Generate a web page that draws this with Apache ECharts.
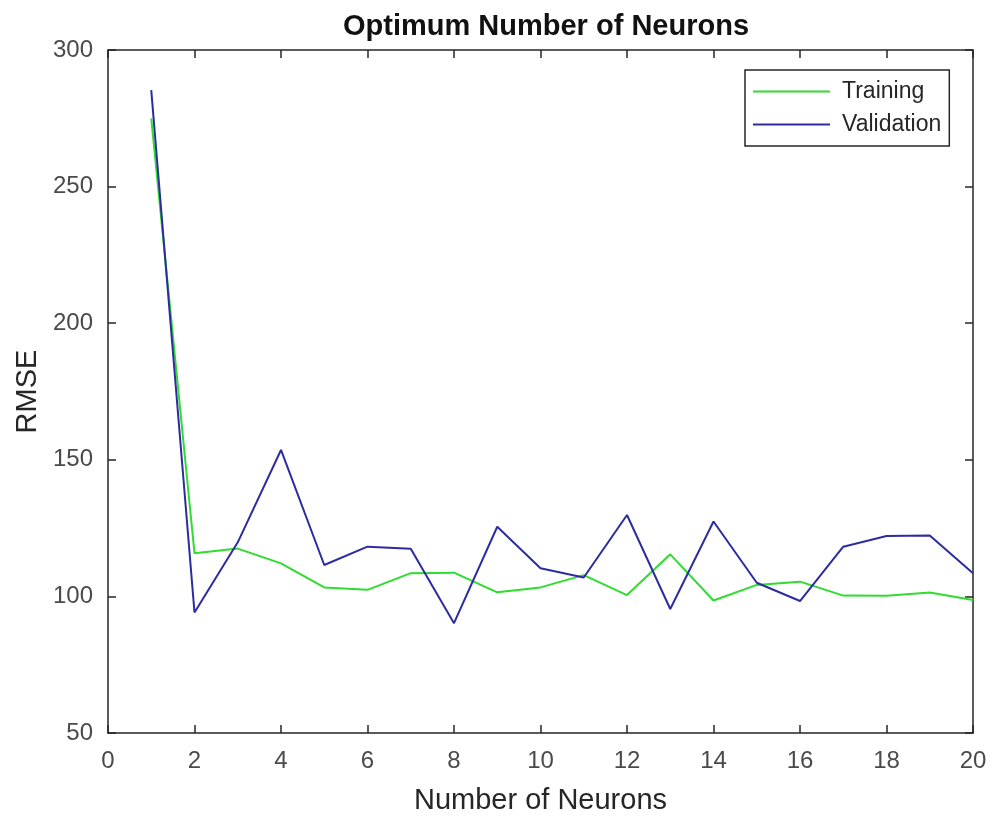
<!DOCTYPE html>
<html>
<head>
<meta charset="utf-8">
<script src="https://cdn.jsdelivr.net/npm/echarts@6/dist/echarts.min.js"></script>
<style>
  html, body { margin: 0; padding: 0; background: #ffffff; }
  #chart { width: 993px; height: 820px; }
</style>
</head>
<body>
<div id="chart"></div>
<script>
// Hidden-layer size vs. RMSE
const neurons = [1, 2, 3, 4, 5, 6, 7, 8, 9, 10, 11, 12, 13, 14, 15, 16, 17, 18, 19, 20];
const trainingRmse = [275, 115.8, 117.5, 112.1, 103.3, 102.4, 108.5, 108.7, 101.5, 103.3,
                      107.8, 100.5, 115.4, 98.5, 104.2, 105.4, 100.3, 100.2, 101.4, 98.7];
const validationRmse = [285.3, 94.1, 119.8, 153.6, 111.5, 118.2, 117.4, 90.2, 125.5, 110.3,
                        106.9, 129.8, 95.4, 127.4, 105.0, 98.3, 118.2, 122.1, 122.3, 108.5];
const xTicks = { min: 0, max: 20, step: 2 };
const yTicks = { min: 50, max: 300, step: 50 };

const axisColor = '#262626';
const font = "'Liberation Sans', Arial, Helvetica, sans-serif";

const pairs = (xs, ys) => xs.map((x, i) => [x, ys[i]]);

const chart = echarts.init(document.getElementById('chart'), null, { renderer: 'canvas' });

// shared frame styling: axis line on every side, ticks pointing into the plot
const boxAxis = () => ({
  axisLine: { show: true, onZero: false, lineStyle: { color: axisColor, width: 1.5 } },
  axisTick: { show: true, inside: true, length: 8, lineStyle: { color: axisColor, width: 1.5 } },
  splitLine: { show: false }
});

chart.setOption({
  backgroundColor: '#ffffff',
  animation: false,
  title: {
    text: 'Optimum Number of Neurons',
    left: 541, top: 7, textAlign: 'center',
    textStyle: { fontFamily: font, fontSize: 29, fontWeight: 'bold', color: '#111111' }
  },
  legend: {
    orient: 'vertical',
    left: 745, top: 70,
    padding: [10, 8, 10, 8],
    itemGap: 10,
    icon: 'rect',
    itemWidth: 77, itemHeight: 2,
    borderColor: axisColor, borderWidth: 1.5, borderRadius: 0,
    backgroundColor: '#ffffff',
    textStyle: { fontFamily: font, fontSize: 23, color: '#262626', padding: [0, 0, 0, 7], lineHeight: 23 },
    data: ['Training', 'Validation']
  },
  grid: { left: 108, right: 20, top: 50, bottom: 87, containLabel: false },
  xAxis: [
    Object.assign(boxAxis(), {
      type: 'value', position: 'bottom',
      min: xTicks.min, max: xTicks.max, interval: xTicks.step,
      name: 'Number of Neurons', nameLocation: 'middle', nameGap: 53,
      nameTextStyle: { fontFamily: font, fontSize: 29, color: '#262626' },
      axisLabel: { fontFamily: font, fontSize: 24, color: '#4a4a4a', margin: 16 }
    }),
    Object.assign(boxAxis(), {
      type: 'value', position: 'top',
      min: xTicks.min, max: xTicks.max, interval: xTicks.step,
      axisLabel: { show: false }
    })
  ],
  yAxis: [
    Object.assign(boxAxis(), {
      type: 'value', position: 'left',
      min: yTicks.min, max: yTicks.max, interval: yTicks.step,
      name: 'RMSE', nameLocation: 'middle', nameGap: 65,
      nameTextStyle: { fontFamily: font, fontSize: 29, color: '#262626' },
      axisLabel: { fontFamily: font, fontSize: 24, color: '#4a4a4a', margin: 15 }
    }),
    Object.assign(boxAxis(), {
      type: 'value', position: 'right',
      min: yTicks.min, max: yTicks.max, interval: yTicks.step,
      axisLabel: { show: false }
    })
  ],
  series: [
    {
      name: 'Training', type: 'line',
      data: pairs(neurons, trainingRmse),
      symbol: 'none', showSymbol: false,
      lineStyle: { color: '#2fdc2f', width: 2 },
      itemStyle: { color: '#2fdc2f' },
      z: 2
    },
    {
      name: 'Validation', type: 'line',
      data: pairs(neurons, validationRmse),
      symbol: 'none', showSymbol: false,
      lineStyle: { color: '#2c2ca0', width: 2 },
      itemStyle: { color: '#2c2ca0' },
      z: 3
    }
  ]
});
</script>
</body>
</html>
